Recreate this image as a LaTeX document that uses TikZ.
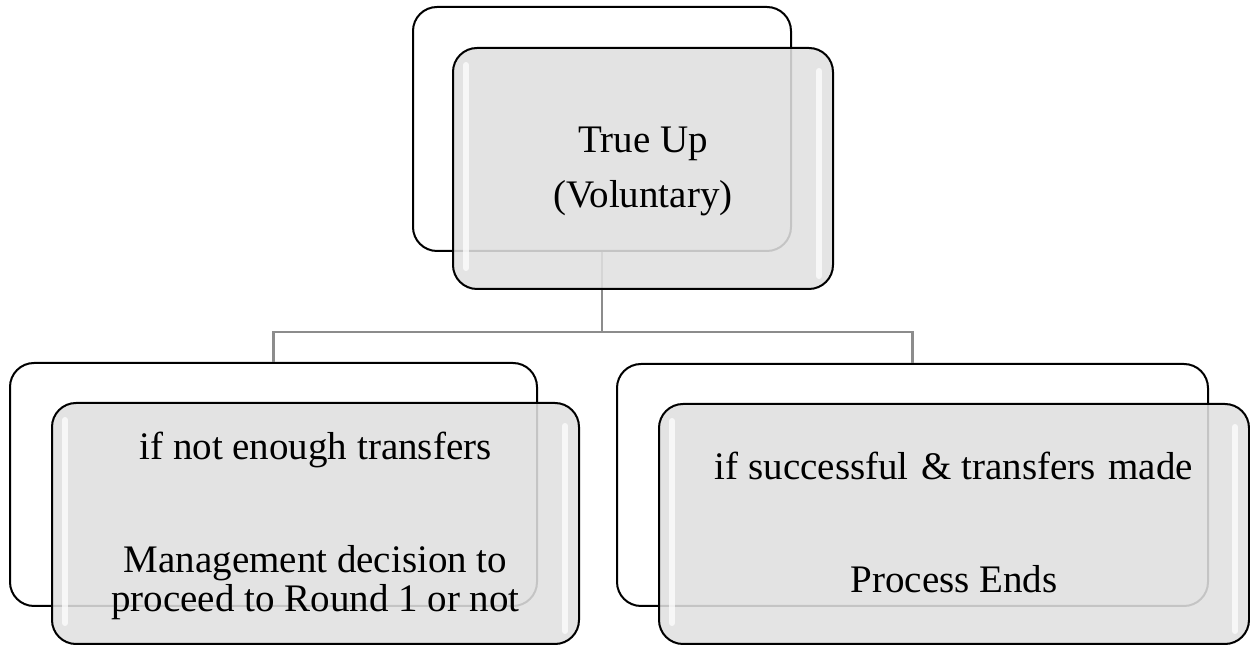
\documentclass[tikz,border=0pt]{standalone}
\usepackage{fontspec}
\setmainfont{Liberation Serif}
\begin{document}
\begin{tikzpicture}[x=0.5pt,y=-0.5pt,
  backbox/.style={draw=black,line width=1pt,rounded corners=12pt,fill=white,inner sep=0pt},
  frontbox/.style={draw=black,line width=1pt,rounded corners=12pt,fill=gray!24,fill opacity=0.88,inner sep=0pt},
  gloss/.style={draw=white,line width=3pt,line cap=round,opacity=0.75},
  conn/.style={draw=black!45,line width=1.4pt},
  label/.style={anchor=base,inner sep=0pt,font=\fontsize{19.5pt}{22pt}\selectfont}]
\useasboundingbox (0,0) rectangle (1250,646);

% back outlines
\node[backbox,minimum width=189pt,minimum height=122pt] (tb) at (602,129) {};
\node[backbox,minimum width=263.5pt,minimum height=121.5pt] (lb) at (273.5,484.5) {};
\node[backbox,minimum width=295.5pt,minimum height=121pt] (rb) at (912.5,485) {};

% tree connectors
\coordinate (bus) at (602,332);
\draw[conn] (tb.south) -- (bus);
\draw[conn] (lb.north) |- (bus);
\draw[conn] (rb.north) |- (bus);

% front panels
\node[frontbox,minimum width=190pt,minimum height=120.5pt] (tf) at (643,168.5) {};
\node[frontbox,minimum width=263.5pt,minimum height=120.5pt] (lf) at (315.5,523.5) {};
\node[frontbox,minimum width=295pt,minimum height=120pt] (rf) at (954,524) {};

% glossy highlights on the panel sides
\foreach \p in {tf,lf,rf}{
  \draw[gloss] ([xshift=7pt,yshift=-9pt]\p.north west) -- ([xshift=7pt,yshift=11pt]\p.south west);
  \draw[gloss] ([xshift=-7.5pt,yshift=-12pt]\p.north east) -- ([xshift=-7.5pt,yshift=7pt]\p.south east);
}

% texts
\node[label] (t1) at (643,153) {True Up};
\node[label] (t2) at (643,208) {(Voluntary)};
\node[label] (l1) at (315.5,460) {if not enough transfers};
\node[label] (l2) at (315.5,573) {Management decision to};
\node[label] (l3) at (315.5,612) {proceed to Round 1 or not};
\node[label] (r1) at (954,480) {if successful\hspace{1.5pt} \& transfers\hspace{1.5pt} made};
\node[label] (r2) at (954,593) {Process Ends};
\end{tikzpicture}
\end{document}
